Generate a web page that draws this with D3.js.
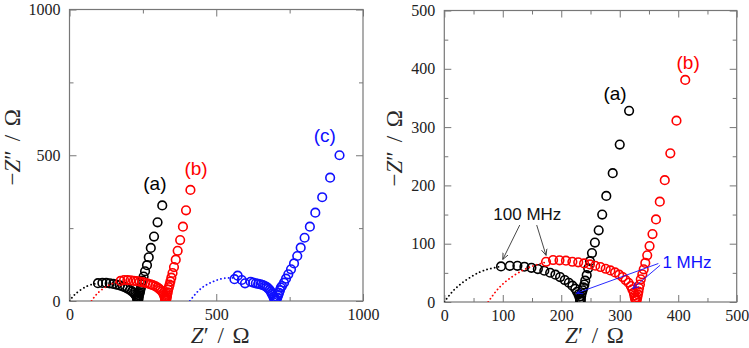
<!DOCTYPE html>
<html>
<head>
<meta charset="utf-8">
<script src="https://cdn.jsdelivr.net/npm/d3@7"></script>
<style>
  body { margin: 0; background: #fff; }
  svg { display: block; }
  .tick text { font-family: "Liberation Serif", "Times New Roman", serif; font-size: 16px; fill: #222; }
  .tick line { stroke: #777; }
  .title { font-family: "Liberation Serif", "Times New Roman", serif; font-size: 23px; fill: #2a2a2a; word-spacing: 3px; }
  .note { font-family: "Liberation Sans", Arial, sans-serif; }
</style>
</head>
<body>
<svg id="chart" width="749" height="348"></svg>
<script>
// impedance data, [Z', -Z''] in ohm
const seriesA = [
  [97, 61], [112, 62], [125, 62], [137, 60.5], [149, 58.7], [160, 56.5], [171, 53.6],
  [181, 50.2], [190, 46.8], [198, 42.8], [206, 37.7], [213, 33], [219, 28], [224, 22.8],
  [227, 17.6], [229.5, 13], [231, 9], [232, 5], [232.5, 2.5], [233, 1],
  [233.5, 5], [234, 10], [235, 15], [236.5, 20], [238, 25], [239.5, 30], [241, 36.5],
  [243.5, 46], [246, 57.7], [249, 70], [252.5, 84], [257.5, 102], [264, 123],
  [270, 150], [277, 182], [288, 221], [300, 270], [316, 328]
];
const seriesB = [
  [174, 69], [186, 72], [197, 71.4], [208, 70.8], [219, 69], [229, 68], [239, 66.2],
  [249, 64.5], [258, 62.2], [267, 60], [276, 57], [284, 54.2], [292, 50.8], [299, 46.8],
  [305, 42.8], [310, 37.7], [315, 33], [319, 27.4], [321.5, 21.7], [324, 16], [325, 11],
  [326, 7], [327, 4], [328, 2], [329, 4], [330, 8], [331, 13], [332, 18], [333, 24],
  [334.5, 30], [336, 38.9], [338.6, 47.4], [341, 56], [343.7, 67], [347, 80], [351, 96],
  [356, 116.5], [362, 141.6], [368.5, 172], [377, 209], [386.5, 255], [397, 311], [412, 381]
];
const seriesC = [
  [562, 75], [573, 87], [587, 72], [598, 60.6], [617, 66], [626, 63], [635, 60.6],
  [643, 59], [651, 57], [659, 54.5], [666, 51.4], [672, 47.5], [677, 43.4], [682, 38],
  [686, 32], [689, 26], [692, 20.6], [695, 14], [697, 9], [700, 4], [702, 2],
  [705, 5], [708, 12], [711, 20], [714, 28], [717, 37], [720, 46], [724, 51.5],
  [731, 62.8], [737.6, 76.5], [745.5, 91.6], [754.7, 108.7], [765, 129], [776, 154.4],
  [787.7, 183], [801, 217], [819, 255], [837.5, 303], [861, 356], [888, 423], [920, 500]
];

// fitted arcs (dotted)
const fitA = [[0, 0], [15, 19], [35, 36], [60, 51], [80, 57.5], [97, 61]];
const fitB = [[75, 0], [90, 20.3], [110, 39.1], [135, 54.8], [155, 62.9], [174, 68.5]];
const fitC = [[410, 0], [440, 35.7], [470, 57.4], [500, 70.9], [530, 78.2], [562, 79]];

const colorA = '#000000';
const colorB = '#ff0000';
const colorC = '#1010ff';

// frequency notes on the right panel
const mhz100Label = [142, 140];
const mhz100Arrows = [[[129, 132], [100, 73]], [[158, 132], [174, 80]]];
const mhz1Label = [373, 58];
const mhz1Arrows = [[[366, 66], [226, 15]], [[369, 63], [322, 23]]];

const svg = d3.select('#chart');

const defs = svg.append('defs');
function arrowMarker(id, color) {
  defs.append('marker')
    .attr('id', id)
    .attr('viewBox', '0 0 10 10')
    .attr('refX', 9)
    .attr('refY', 5)
    .attr('markerWidth', 7)
    .attr('markerHeight', 7)
    .attr('markerUnits', 'userSpaceOnUse')
    .attr('orient', 'auto')
    .append('path')
    .attr('d', 'M0,1 L9,5 L0,9')
    .attr('fill', 'none')
    .attr('stroke', color)
    .attr('stroke-width', 1.2);
}
arrowMarker('arrow-black', '#333');
arrowMarker('arrow-blue', colorC);

function drawPanel(opts) {
  const { left, right, top, bottom, max, labels, minor, id, titleGap } = opts;

  const x = d3.scaleLinear().domain([0, max]).range([left, right]);
  const y = d3.scaleLinear().domain([0, max]).range([bottom, top]);

  const g = svg.append('g');

  defs.append('clipPath')
    .attr('id', 'clip-' + id)
    .append('rect')
    .attr('x', left)
    .attr('y', top)
    .attr('width', right - left)
    .attr('height', bottom - top);

  // ticks, all pointing inward, mirrored on top and right
  const major = 7;
  const small = 4;
  const axes = [
    [d3.axisBottom(x), `translate(0,${bottom})`, true, 8],
    [d3.axisTop(x), `translate(0,${top})`, false, 8],
    [d3.axisLeft(y), `translate(${left},0)`, true, 9],
    [d3.axisRight(y), `translate(${right},0)`, false, 9],
  ];
  for (const [axis, tr, withLabels, pad] of axes) {
    g.append('g')
      .attr('transform', tr)
      .call(axis.tickValues(labels).tickSize(-major).tickPadding(pad)
        .tickFormat(withLabels ? d3.format('d') : ''))
      .call((s) => s.select('.domain').remove());
  }
  if (minor.length) {
    for (const [axis, tr] of axes) {
      g.append('g')
        .attr('transform', tr)
        .call(axis.tickValues(minor).tickSize(-small).tickFormat(''))
        .call((s) => s.select('.domain').remove());
    }
  }

  g.append('rect')
    .attr('x', left)
    .attr('y', top)
    .attr('width', right - left)
    .attr('height', bottom - top)
    .attr('fill', 'none')
    .attr('stroke', '#777')
    .attr('stroke-width', 1.2);

  // axis titles
  g.append('text')
    .attr('class', 'title')
    .attr('x', (left + right) / 2 + 4)
    .attr('y', 343)
    .attr('text-anchor', 'middle')
    .html('<tspan font-style="italic">Z</tspan>′ / Ω');

  g.append('text')
    .attr('class', 'title')
    .attr('transform', `translate(${left - titleGap},${(top + bottom) / 2 - 8}) rotate(-90)`)
    .attr('text-anchor', 'middle')
    .html('−<tspan font-style="italic">Z</tspan>″ / Ω');

  const plot = g.append('g').attr('clip-path', `url(#clip-${id})`);

  const line = d3.line()
    .x((d) => x(d[0]))
    .y((d) => y(d[1]))
    .curve(d3.curveNatural);

  return { x, y, g, plot, line };
}

function drawSeries(p, fit, data, color) {
  p.plot.append('path')
    .datum(fit)
    .attr('d', p.line)
    .attr('fill', 'none')
    .attr('stroke', color)
    .attr('stroke-width', 1.8)
    .attr('stroke-linecap', 'round')
    .attr('stroke-dasharray', '0.1 3.8');

  p.plot.append('g')
    .selectAll('circle')
    .data(data)
    .join('circle')
    .attr('cx', (d) => p.x(d[0]))
    .attr('cy', (d) => p.y(d[1]))
    .attr('r', 4.3)
    .attr('fill', 'none')
    .attr('stroke', color)
    .attr('stroke-width', 1.6);
}

function addNote(p, text, pos, color, size, anchor) {
  p.g.append('text')
    .attr('class', 'note')
    .attr('x', p.x(pos[0]))
    .attr('y', p.y(pos[1]))
    .attr('text-anchor', anchor || 'middle')
    .attr('font-size', size)
    .attr('fill', color)
    .text(text);
}

// left panel: 0-1000 ohm
const leftPanel = drawPanel({
  id: 'wide',
  left: 69.5, right: 363, top: 9.5, bottom: 301,
  max: 1000,
  labels: [0, 500, 1000],
  minor: [250, 750],
  titleGap: 50,
});

drawSeries(leftPanel, fitA, seriesA, colorA);
drawSeries(leftPanel, fitB, seriesB, colorB);
drawSeries(leftPanel, fitC, seriesC, colorC);

addNote(leftPanel, '(a)', [291, 380], colorA, 19);
addNote(leftPanel, '(b)', [431, 432], colorB, 19);
addNote(leftPanel, '(c)', [870, 545], colorC, 19);

// right panel: 0-500 ohm close-up
const rightPanel = drawPanel({
  id: 'zoom',
  left: 444.3, right: 736.7, top: 10.5, bottom: 302,
  max: 500,
  labels: [0, 100, 200, 300, 400, 500],
  minor: [50, 150, 250, 350, 450],
  titleGap: 42,
});

drawSeries(rightPanel, fitA, seriesA, colorA);
drawSeries(rightPanel, fitB, seriesB, colorB);

addNote(rightPanel, '(a)', [292, 346], colorA, 19);
addNote(rightPanel, '(b)', [417, 399], colorB, 19);

addNote(rightPanel, '100 MHz', mhz100Label, '#111', 17);
addNote(rightPanel, '1 MHz', mhz1Label, colorC, 17, 'start');

rightPanel.g.append('g')
  .selectAll('line')
  .data(mhz100Arrows)
  .join('line')
  .attr('x1', (d) => rightPanel.x(d[0][0]))
  .attr('y1', (d) => rightPanel.y(d[0][1]))
  .attr('x2', (d) => rightPanel.x(d[1][0]))
  .attr('y2', (d) => rightPanel.y(d[1][1]))
  .attr('stroke', '#333')
  .attr('stroke-width', 0.9)
  .attr('marker-end', 'url(#arrow-black)');

rightPanel.g.append('g')
  .selectAll('line')
  .data(mhz1Arrows)
  .join('line')
  .attr('x1', (d) => rightPanel.x(d[0][0]))
  .attr('y1', (d) => rightPanel.y(d[0][1]))
  .attr('x2', (d) => rightPanel.x(d[1][0]))
  .attr('y2', (d) => rightPanel.y(d[1][1]))
  .attr('stroke', colorC)
  .attr('stroke-width', 0.9)
  .attr('marker-end', 'url(#arrow-blue)');
</script>
</body>
</html>
